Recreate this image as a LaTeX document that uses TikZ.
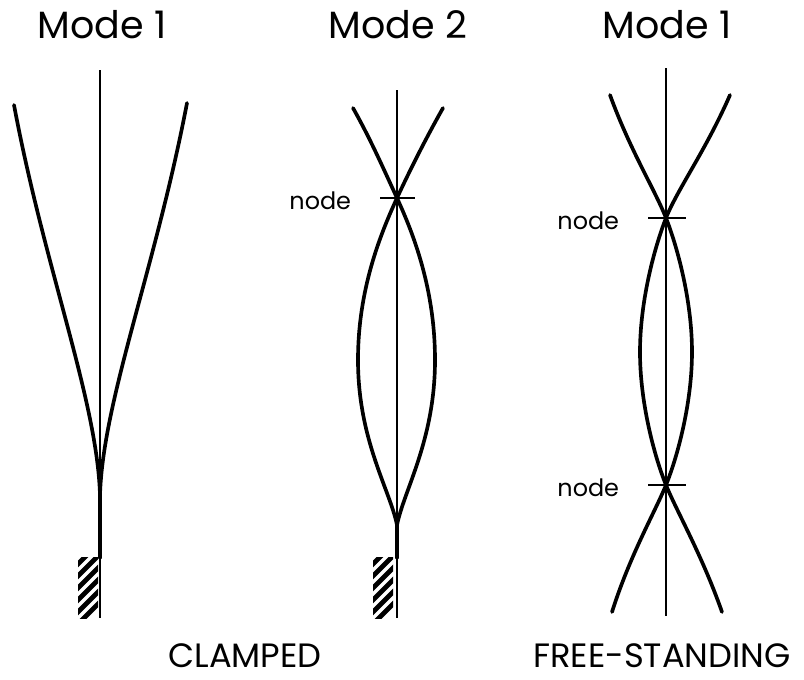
\documentclass[tikz,border=0pt]{standalone}
\usepackage{fontspec}
\setmainfont{Poppins}
\begin{document}
\begin{tikzpicture}
  [x=0.025cm,y=-0.025cm,
   beam/.style={line width=2.6pt,line cap=round},
   axis/.style={line width=2.1pt},
   tick/.style={line width=2pt},
   title/.style={font=\fontsize{27}{30}\selectfont},
   caption/.style={font=\fontsize{24}{28}\selectfont,inner sep=0pt},
   nodelabel/.style={font=\fontsize{17}{20}\selectfont,anchor=east},
   hatch/.style={line width=3.4pt}]
  \useasboundingbox (0,0) rectangle (804,679);
  % titles
  \node[title] (t1) at (102,25) {Mode 1};
  \node[title] (t2) at (398,25) {Mode 2};
  \node[title] (t3) at (667,25) {Mode 1};
  \node[caption] (cl) at (245,656) {CLAMPED};
  \node[caption] (fs) at (662,656) {FREE-STANDING};
  % clamps
  \foreach \cx in {78,373}{
    \begin{scope}
      \clip (\cx,557) rectangle (\cx+20,618);
      \foreach \k in {0,...,6}
        \draw[hatch] (\cx-4,618-\k*12+10) -- (\cx+26,618-\k*12-20);
    \end{scope}
  }
  % clamped, mode 1
  \coordinate (root1) at (100,558);
  \draw[axis] (100,70) -- (100,618);
  \draw[beam] (root1) -- (100,495) .. controls (97,400) and (45,270) .. (14,105);
  \draw[beam] (root1) -- (100,495) .. controls (103,400) and (155,270) .. (187,103);
  % clamped, mode 2
  \coordinate (n2) at (397,198);
  \coordinate (root2) at (397,558);
  \draw[axis] (397,90) -- (397,618);
  \draw[beam] (443,108) .. controls (425,140) and (410,170) .. (n2)
    .. controls (380,235) and (358,290) .. (358,360)
    .. controls (358,440) and (390,490) .. (397,525) -- (root2);
  \draw[beam] (353,108) .. controls (371,140) and (384,170) .. (n2)
    .. controls (414,235) and (435,290) .. (435,360)
    .. controls (435,440) and (404,490) .. (397,525) -- (root2);
  \draw[tick] (380,198) -- (415,198);
  \node[nodelabel] (l2) at (356,201) {node};
  % free-standing, mode 1
  \coordinate (n3a) at (666,218);
  \coordinate (n3b) at (666,485);
  \draw[axis] (666,68) -- (666,616);
  \draw[beam] (610,95) .. controls (630,150) and (655,190) .. (n3a)
    .. controls (677,246) and (692,300) .. (692,352)
    .. controls (692,404) and (677,458) .. (n3b)
    .. controls (655,512) and (630,555) .. (612,612);
  \draw[beam] (730,95) .. controls (706,150) and (677,190) .. (n3a)
    .. controls (655,246) and (640,300) .. (640,352)
    .. controls (640,404) and (655,458) .. (n3b)
    .. controls (677,512) and (702,555) .. (722,612);
  \draw[tick] (648,218) -- (686,218);
  \draw[tick] (648,485) -- (686,485);
  \node[nodelabel] (l3a) at (624,221) {node};
  \node[nodelabel] (l3b) at (624,488) {node};
\end{tikzpicture}
\end{document}
